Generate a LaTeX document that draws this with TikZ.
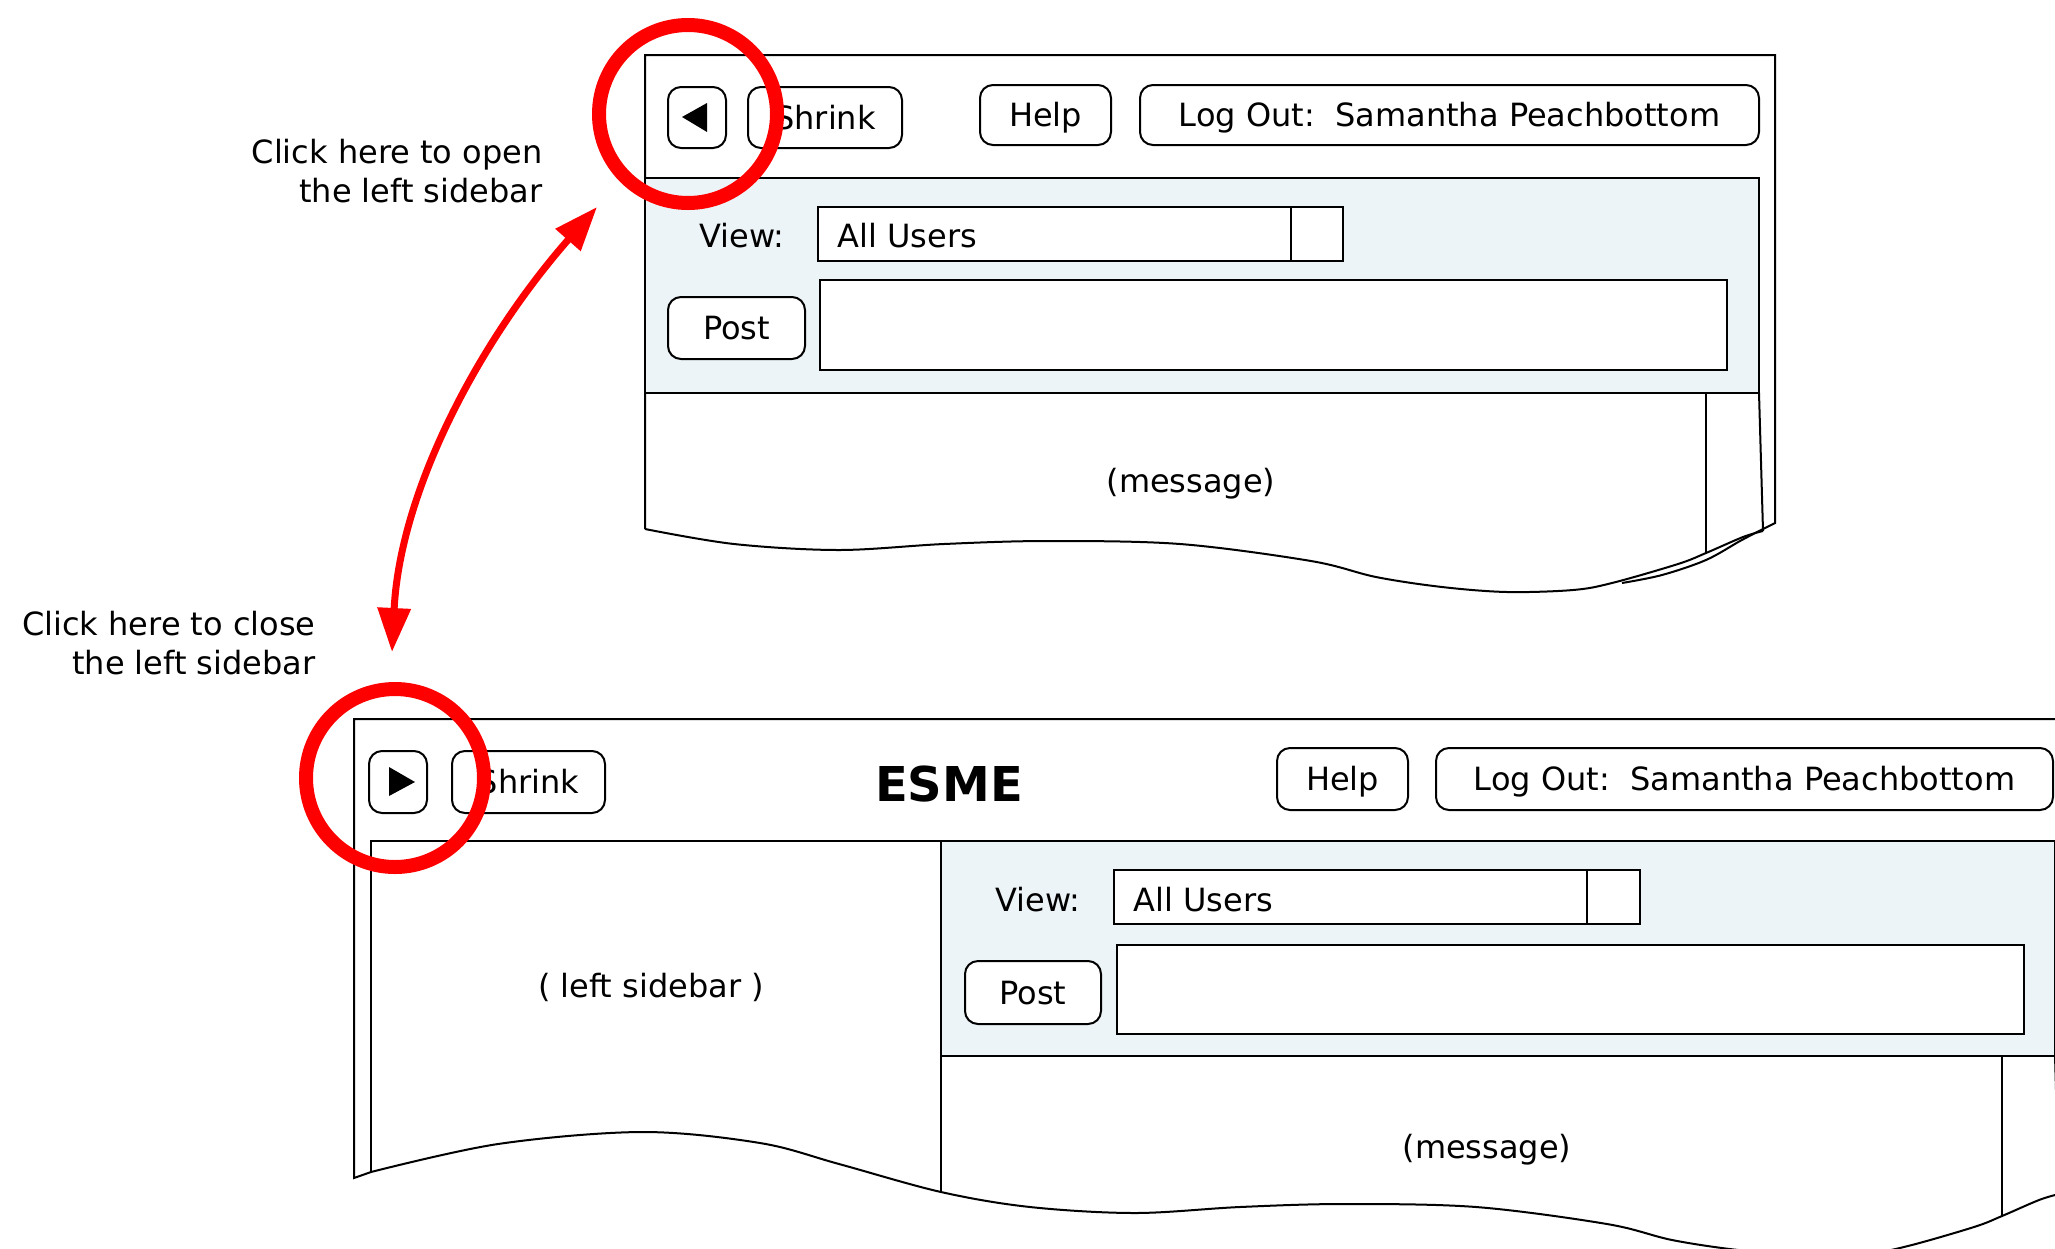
\documentclass[tikz,border=0pt]{standalone}
\usepackage{fontspec}
\setmainfont{DejaVu Sans}
\usetikzlibrary{arrows.meta}
\definecolor{panelblue}{RGB}{237,244,248}
\definecolor{markred}{RGB}{255,0,0}
\newcommand{\uitext}{\fontsize{16pt}{19.5pt}\selectfont}
\begin{document}
\begin{tikzpicture}[x=0.5pt,y=-0.5pt,
  frame/.style={draw=black,line width=1pt},
  btn/.style={draw=black,line width=1pt,rounded corners=6.5pt,fill=white,inner sep=0pt,font=\uitext,text height=13pt,text depth=1.3pt},
  lbl/.style={inner sep=0pt,font=\uitext,text height=13pt,text depth=1.3pt},
  note/.style={inner sep=0pt,font=\uitext,align=right,anchor=east},
  ring/.style={draw=markred,line width=7pt,circle,inner sep=0pt,minimum size=89pt},
  icon/.style={fill=black},
  redarrow/.style={draw=markred,line width=3.5pt,{Triangle[length=22pt,width=16pt]}-{Triangle[length=22pt,width=16pt]}}
]
\useasboundingbox (0,0) rectangle (2055,1248);
\clip (0,0) rectangle (2055,1248);

% ================= top window =================
\draw[frame] (645,529) -- (645,55) -- (1775,55) -- (1775,523) -- (1761,530);
\draw[frame,fill=panelblue] (645,178) rectangle (1759,393);
\node[btn,minimum width=29pt,minimum height=30.5pt] (tback) at (697,117.5) {};
\fill[icon] (682,117) -- (707,103) -- (707,132) -- cycle;
\node[btn,minimum width=77pt,minimum height=30.5pt] (tshrink) at (825,117.5) {Shrink};
\node[btn,minimum width=65.5pt,minimum height=30pt] (thelp) at (1045.5,115) {Help};
\node[btn,minimum width=309.5pt,minimum height=30pt] (tlogout) at (1449.5,115) {Log Out:\ \ Samantha Peachbottom};
\node[lbl] (tview) at (742,236) {View:};
\draw[frame,fill=white] (818,207) rectangle (1343,261);
\draw[frame] (1291,207) -- (1291,261);
\node[lbl,anchor=west] (tusers) at (837,236) {All Users};
\node[btn,minimum width=68.5pt,minimum height=31pt] (tpost) at (736.5,328) {Post};
\draw[frame,fill=white] (820,280) rectangle (1727,370);
\draw[frame] (1759,393) -- (1763,531);
\draw[frame] (1706,393) -- (1706,553);
\node[lbl] (tmsg) at (1191,481) {(message)};
\draw[frame] plot[smooth,tension=0.55] coordinates {(645,529) (734,544) (839,550) (944,544) (1048,541) (1180,544) (1311,561) (1376,577) (1442,587) (1507,592) (1573,590) (1612,583) (1678,564) (1706,553) (1743,537) (1763,531)};
\draw[frame] plot[smooth,tension=0.55] coordinates {(1761,530) (1740,541) (1706,560) (1662,575) (1622,583)};

% ================= bottom window =================
\draw[frame] (371,1172) -- (354,1178) -- (354,719) -- (2071,719);
\node[btn,minimum width=29pt,minimum height=31pt] (bfwd) at (398,782) {};
\fill[icon] (389,767) -- (389,796) -- (415,782) -- cycle;
\node[btn,minimum width=76.5pt,minimum height=31pt] (bshrink) at (528.5,782) {Shrink};
\node[inner sep=0pt,font=\bfseries\fontsize{24pt}{28pt}\selectfont] (esme) at (949,784) {ESME};
\node[btn,minimum width=65.5pt,minimum height=31pt] (bhelp) at (1342.5,779) {Help};
\node[btn,minimum width=308.5pt,minimum height=31pt] (blogout) at (1744.5,779) {Log Out:\ \ Samantha Peachbottom};
\draw[frame] (371,1172) -- (371,841) -- (941,841) -- (941,1193);
\node[lbl] (side) at (651,986) {( left sidebar )};
\draw[frame,fill=panelblue] (941,841) rectangle (2055,1056);
\node[lbl] (bview) at (1038,900) {View:};
\draw[frame,fill=white] (1114,870) rectangle (1640,924);
\draw[frame] (1587,870) -- (1587,924);
\node[lbl,anchor=west] (busers) at (1133,900) {All Users};
\node[btn,minimum width=68pt,minimum height=31.5pt] (bpost) at (1033,992.5) {Post};
\draw[frame,fill=white] (1117,945) rectangle (2024,1034);
\draw[frame] (2055,1056) -- (2059,1194);
\draw[frame] (2002,1056) -- (2002,1216);
\node[lbl] (bmsg) at (1487,1147) {(message)};
\draw[frame] plot[smooth,tension=0.55] coordinates {(371,1172) (498,1144) (642,1132) (760,1143) (839,1164) (941,1192) (1030,1207) (1135,1213) (1240,1207) (1344,1204) (1476,1207) (1607,1224) (1672,1240) (1738,1250) (1803,1255) (1869,1253) (1908,1246) (1974,1227) (2002,1216) (2039,1200) (2059,1194)};

% ================= annotations =================
\node[note] (openlbl) at (543,171) {Click here to open\\the left sidebar};
\node[note] (closelbl) at (316,643) {Click here to close\\the left sidebar};
\node[ring] (ringtop) at (688,114) {};
\node[ring] (ringbot) at (395,778) {};
\coordinate (arrTop) at (597,207);
\coordinate (arrBot) at (392,652);
\draw[redarrow] (arrBot) .. controls (400,490) and (480,340) .. (arrTop);
\end{tikzpicture}
\end{document}
